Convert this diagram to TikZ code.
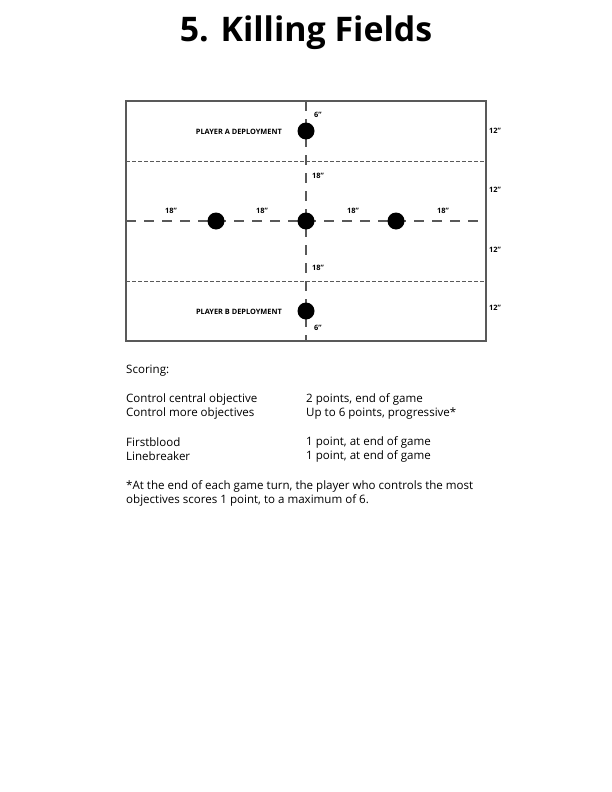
\documentclass[tikz,border=0pt]{standalone}
\usepackage{fontspec}
\setmainfont{Open Sans}
\begin{document}
\begin{tikzpicture}[x=1bp,y=-1bp,
  lbl/.style={font=\bfseries\fontsize{7.4}{8}\selectfont, inner sep=0pt},
  body/.style={font=\fontsize{11.6}{13}\selectfont, anchor=west, inner sep=0pt},
  obj/.style={circle, fill=black, minimum size=17bp, inner sep=0pt},
  bigdash/.style={draw=black!65, line width=1.4pt, dash pattern=on 10bp off 8bp},
  smalldash/.style={draw=black!65, line width=1pt, dash pattern=on 3.5bp off 2.5bp}]
\useasboundingbox (0,0) rectangle (612,792);
\node[font=\bfseries\fontsize{34}{38}\selectfont] (title) at (306,33) {5. Killing Fields};
% table
\coordinate (tl) at (126,101);
\coordinate (br) at (486,341);
\coordinate (vt) at (306,101);
\coordinate (vb) at (306,341);
\coordinate (hl) at (126,221);
\coordinate (hr) at (486,221);
\coordinate (d1l) at (126,161);
\coordinate (d1r) at (486,161);
\coordinate (d2l) at (126,281);
\coordinate (d2r) at (486,281);
\draw[smalldash] (d1l) -- (d1r);
\draw[smalldash] (d2l) -- (d2r);
\draw[bigdash] (vt) -- (vb);
\draw[bigdash] (hl) -- (hr);
\draw[draw=black!65, line width=1.1pt] (tl) rectangle (br);
\node[obj] (oa) at (306,131) {};
\node[obj] (ol) at (216,221) {};
\node[obj] (oc) at (306,221) {};
\node[obj] (or) at (396,221) {};
\node[obj] (ob) at (306,311) {};
\node[lbl, anchor=east] (pa) at (282,132) {PLAYER A DEPLOYMENT};
\node[lbl, anchor=east] (pb) at (282,312) {PLAYER B DEPLOYMENT};
\node[lbl, anchor=west] (l6a) at (314,115) {6”};
\node[lbl, anchor=west] (l18a) at (312,176) {18”};
\node[lbl, anchor=west] (l18b) at (312,268) {18”};
\node[lbl, anchor=west] (l6b) at (314,328) {6”};
\node[lbl] (h1) at (171,211) {18”};
\node[lbl] (h2) at (262,211) {18”};
\node[lbl] (h3) at (353,211) {18”};
\node[lbl] (h4) at (443,211) {18”};
\node[lbl, anchor=west] (r1) at (489,131) {12”};
\node[lbl, anchor=west] (r2) at (489,190) {12”};
\node[lbl, anchor=west] (r3) at (489,250) {12”};
\node[lbl, anchor=west] (r4) at (489,308) {12”};
% scoring
\node[body] (sc) at (126,371) {Scoring:};
\node[body] (c1) at (126,399) {Control central objective};
\node[body] (c2) at (126,413) {Control more objectives};
\node[body] (c3) at (126,442) {Firstblood};
\node[body] (c4) at (126,456) {Linebreaker};
\node[body] (v1) at (306,399) {2 points, end of game};
\node[body] (v2) at (306,413) {Up to 6 points, progressive*};
\node[body] (v3) at (306,442) {1 point, at end of game};
\node[body] (v4) at (306,456) {1 point, at end of game};
\node[body] (n1) at (126,486) {*At the end of each game turn, the player who controls the most};
\node[body] (n2) at (126,500) {objectives scores 1 point, to a maximum of 6.};
\end{tikzpicture}
\end{document}
